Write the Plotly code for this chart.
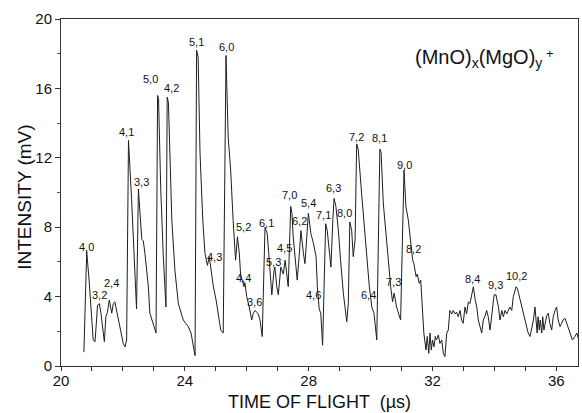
import plotly.graph_objects as go

# ---- data ----
t_us = [20.74, 20.83, 20.91, 20.99, 21.04, 21.10, 21.18, 21.24, 21.29, 21.40, 21.45, 21.50,
        21.56, 21.64, 21.69, 21.74, 21.82, 21.88, 21.94, 22.01, 22.07, 22.12, 22.18,
        22.28, 22.44, 22.50, 22.61, 22.66, 22.71, 22.82, 22.87, 22.96, 23.04, 23.07,
        23.12, 23.15, 23.22, 23.30, 23.39, 23.43, 23.47, 23.52, 23.58, 23.68, 23.79,
        23.95, 24.11, 24.20, 24.27, 24.33, 24.38, 24.43, 24.49, 24.58, 24.65, 24.73,
        24.79, 24.83, 24.92, 25.01, 25.08, 25.16, 25.24, 25.33, 25.40, 25.48, 25.56,
        25.64, 25.70, 25.76, 25.80, 25.87, 25.91, 25.94, 26.00, 26.08, 26.16, 26.21,
        26.27, 26.32, 26.37, 26.43, 26.50, 26.59, 26.66, 26.71, 26.75, 26.81, 26.88,
        26.91, 26.97, 27.02, 27.10, 27.18, 27.24, 27.29, 27.34, 27.42, 27.46, 27.50,
        27.56, 27.63, 27.70, 27.75, 27.83, 27.88, 27.94, 27.99, 28.07, 28.15, 28.24,
        28.28, 28.34, 28.39, 28.45, 28.55, 28.60, 28.67, 28.72, 28.78, 28.82, 28.88,
        28.96, 29.03, 29.12, 29.23, 29.28, 29.33, 29.39, 29.44, 29.50, 29.55, 29.60,
        29.71, 29.79, 29.87, 29.96, 30.04, 30.11, 30.20, 30.30, 30.34, 30.41, 30.50,
        30.57, 30.65, 30.71, 30.76, 30.84, 30.93, 30.97, 31.08, 31.14, 31.22, 31.27,
        31.36, 31.40, 31.47, 31.51, 31.57, 31.62, 31.66, 31.72, 31.79, 31.83, 31.88,
        31.92, 31.96, 32.00, 32.05, 32.09, 32.13, 32.19, 32.24, 32.30, 32.35, 32.40,
        32.46, 32.51, 32.56, 32.62, 32.67, 32.73, 32.78, 32.83, 32.89, 32.94, 32.99,
        33.05, 33.10, 33.16, 33.21, 33.26, 33.32, 33.38, 33.43, 33.48, 33.53, 33.59,
        33.64, 33.69, 33.75, 33.80, 33.86, 33.99, 34.05, 34.13, 34.18, 34.24, 34.29,
        34.34, 34.40, 34.45, 34.50, 34.56, 34.61, 34.70, 34.74, 34.78, 34.83, 34.88,
        34.93, 34.99, 35.04, 35.09, 35.15, 35.20, 35.26, 35.31, 35.34, 35.38, 35.41,
        35.45, 35.48, 35.53, 35.56, 35.60, 35.64, 35.69, 35.74, 35.79, 35.85, 35.90,
        35.96, 36.01, 36.06, 36.12, 36.17, 36.22, 36.28, 36.33, 36.38, 36.44, 36.52,
        36.60, 36.66, 36.71]
intensity_mV = [0.8, 6.6, 4.9, 2.65, 1.5, 1.4, 3.5, 3.6, 3.05, 1.4, 2.85, 3.1,
                3.8, 3.05, 3.6, 3.7, 2.94, 2.55, 1.9, 1.3, 1.1, 1.5, 13.0,
                9.6, 3.3, 10.2, 7.3, 7.2, 6.5, 4.6, 3.05, 2.55, 2.07, 1.9,
                15.6, 15.4, 10.3, 6.5, 3.4, 15.5, 15.2, 11.3, 8.4, 5.5, 3.6,
                2.65, 2.27, 1.9, 1.1, 0.6, 18.2, 17.8, 12.3, 8.4, 6.5, 5.8,
                6.3, 5.7, 4.6, 3.8, 3.0, 2.07, 1.9, 17.9, 13.2, 11.3, 8.4,
                6.1, 7.45, 6.5, 5.3, 4.77, 4.57, 4.8, 4.0, 3.4, 2.65, 3.04,
                3.2, 3.1, 3.0, 2.65, 1.7, 8.0, 7.65, 6.5, 5.3, 4.1, 5.5,
                5.7, 4.57, 4.1, 5.7, 5.3, 6.1, 5.3, 4.57, 9.2, 8.8, 7.45,
                6.1, 4.95, 6.5, 7.8, 6.5, 5.9, 7.45, 8.8, 7.65, 7.1, 6.3,
                4.57, 3.3, 3.04, 1.2, 8.2, 7.8, 6.5, 5.7, 8.4, 9.66, 9.2,
                7.8, 6.1, 4.2, 2.55, 3.6, 8.3, 7.8, 6.3, 7.26, 12.8, 12.5,
                9.95, 8.4, 6.5, 4.57, 3.4, 3.04, 1.5, 12.5, 12.3, 9.4, 7.45,
                5.9, 4.57, 3.7, 4.2, 3.4, 2.84, 2.65, 11.3, 9.2, 8.4, 7.45,
                6.1, 5.9, 5.15, 5.3, 4.77, 4.95, 3.6, 1.9, 0.92, 1.7, 0.73,
                1.9, 0.92, 1.5, 1.1, 1.7, 1.5, 1.79, 1.3, 1.5, 0.73, 0.54,
                1.9, 2.07, 3.2, 3.0, 3.2, 3.0, 3.1, 2.84, 3.2, 2.65, 2.46,
                3.4, 3.0, 3.7, 3.6, 4.0, 4.57, 3.8, 3.4, 2.65, 2.27, 1.9,
                2.65, 2.84, 3.2, 2.84, 2.07, 4.1, 4.1, 3.4, 2.65, 3.2, 2.84,
                3.2, 3.0, 3.2, 3.4, 3.2, 4.0, 4.57, 4.48, 4.2, 3.8, 3.4,
                3.2, 2.65, 2.17, 1.9, 1.7, 2.07, 2.65, 3.4, 2.46, 1.9, 2.84,
                2.07, 2.65, 1.9, 2.84, 2.07, 2.46, 2.9, 3.04, 2.46, 2.07, 2.84,
                3.2, 3.4, 2.65, 2.27, 2.46, 2.65, 2.75, 2.46, 2.27, 1.9, 1.5,
                1.7, 1.9, 1.6]

peak_labels = ["4,0", "3,2", "2,4", "4,1", "3,3", "5,0", "4,2", "5,1", "6,0", "4,3",
               "5,2", "4,4", "3,6", "6,1", "5,3", "4,5", "7,0", "6,2", "5,4", "4,6",
               "7,1", "6,3", "8,0", "7,2", "6,4", "8,1", "7,3", "9,0", "8,2", "8,4",
               "9,3", "10,2"]
label_t = [20.81, 21.24, 21.64, 22.12, 22.60, 22.89, 23.57, 24.38, 25.35, 24.97,
           25.88, 25.88, 26.24, 26.64, 26.85, 27.23, 27.39, 27.69, 27.98, 28.16,
           28.48, 28.81, 29.16, 29.54, 29.94, 30.29, 30.75, 31.10, 31.39, 33.30,
           34.05, 34.72]
label_I = [6.88, 4.09, 4.77, 13.5, 10.62, 16.52, 16.0, 18.69, 18.4, 6.27,
           8.03, 5.05, 3.71, 8.26, 6.01, 6.78, 9.86, 8.37, 9.38, 4.09,
           8.70, 10.28, 8.84, 13.22, 4.09, 13.12, 4.86, 11.58, 6.73, 5.0,
           4.67, 5.19]

x_ticks = [20, 24, 28, 32, 36]
y_ticks = [0, 4, 8, 12, 16, 20]

x_title = "TIME OF FLIGHT  (µs)"
y_title = "INTENSITY (mV)"

FONT = "Liberation Sans, Arial, sans-serif"

fig = go.Figure()
fig.add_trace(go.Scatter(x=t_us, y=intensity_mV, mode="lines",
                         line=dict(color="#1e1e1e", width=1), hoverinfo="skip"))

for txt, tx, ty in zip(peak_labels, label_t, label_I):
    fig.add_annotation(x=tx, y=ty, text=txt, showarrow=False,
                       font=dict(family=FONT, size=11, color="#111"),
                       xanchor="center", yanchor="middle")

fig.add_annotation(xref="paper", yref="paper", x=0.807, y=0.885,
                   text="(MnO)<sub>x</sub>(MgO)<sub>y</sub>", showarrow=False,
                   font=dict(family=FONT, size=20, color="#111"),
                   xanchor="center", yanchor="middle")
fig.add_annotation(xref="paper", yref="paper", x=0.946, y=0.9,
                   text="+", showarrow=False,
                   font=dict(family=FONT, size=13, color="#111"),
                   xanchor="center", yanchor="middle")

# axis titles
fig.add_annotation(xref="paper", yref="paper", x=0.5, y=-0.1354,
                   text=x_title, showarrow=False, borderpad=0,
                   font=dict(family=FONT, size=18, color="#111"),
                   xanchor="center", yanchor="bottom")
fig.add_annotation(xref="paper", yref="paper", x=-0.072, y=0.487,
                   text=y_title, showarrow=False, textangle=-90,
                   font=dict(family=FONT, size=19, color="#111"),
                   xanchor="center", yanchor="middle")

fig.update_layout(
    width=582, height=413,
    margin=dict(l=61, r=4, t=19, b=47),
    paper_bgcolor="white", plot_bgcolor="white",
    showlegend=False,
    font=dict(family=FONT, color="#111"),
)
fig.update_xaxes(
    range=[20, 36.7], tickmode="array", tickvals=x_ticks, ticktext=[str(v) for v in x_ticks],
    ticks="outside", ticklen=4, tickcolor="#333", showgrid=False, zeroline=False,
    showline=True, linecolor="#333", linewidth=1, mirror=True,
    minor=dict(dtick=1, tick0=20, ticks="outside", ticklen=4, tickcolor="#333"),
    tickfont=dict(family=FONT, size=15, color="#111"),
    ticklabelstandoff=-3,
)
fig.update_yaxes(
    range=[0, 20], tickmode="array", tickvals=y_ticks, ticktext=[str(v) for v in y_ticks],
    ticks="outside", ticklen=5, tickcolor="#333", showgrid=False, zeroline=False,
    showline=True, linecolor="#333", linewidth=1, mirror=True,
    minor=dict(dtick=2, tick0=0, ticks="outside", ticklen=3, tickcolor="#555"),
    tickfont=dict(family=FONT, size=15, color="#111"),
)

fig.write_html("out.html", config={"displayModeBar": False},
               post_script="document.body.style.margin='0';document.body.style.overflow='hidden';")
